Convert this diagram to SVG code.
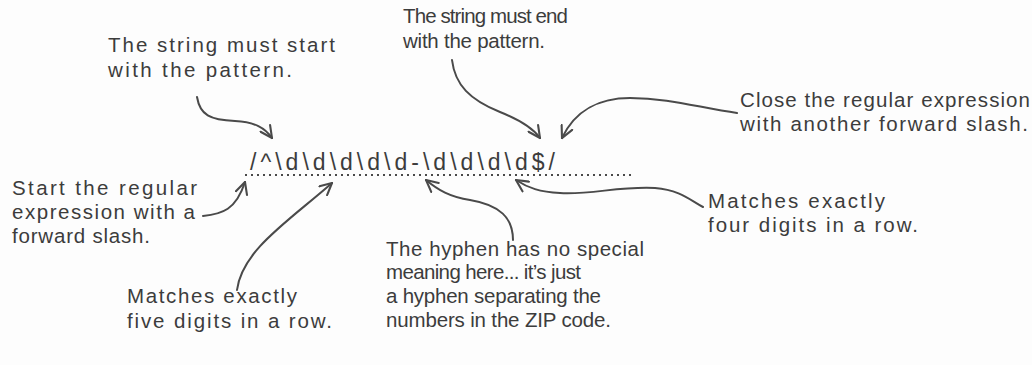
<svg xmlns="http://www.w3.org/2000/svg" width="1032" height="365" viewBox="0 0 1032 365">
<defs>
<style>
.t{font-family:"Liberation Sans","DejaVu Sans",sans-serif;font-size:20.5px;fill:#3c3c3c}
.rx{font-family:"Liberation Sans","DejaVu Sans",sans-serif;font-size:23px;fill:#3c3c3c}
.c{fill:none;stroke:#4a4a4a;stroke-width:2;stroke-linecap:round;marker-end:url(#ah)}
</style>
<marker id="ah" viewBox="0 0 12 12" refX="11" refY="6" markerWidth="14" markerHeight="14" markerUnits="userSpaceOnUse" orient="auto">
<path d="M1,1 L11,6 L1,11" fill="none" stroke="#4a4a4a" stroke-width="1.8" stroke-linecap="round"/>
</marker>
</defs>
<rect width="1032" height="365" fill="#fdfdfd"/>

<g id="regex">
<text class="rx" x="250" y="170" textLength="305">/^\d\d\d\d\d-\d\d\d\d$/</text>
<line x1="245" y1="175" x2="635" y2="175" stroke="#4a4a4a" stroke-width="2" stroke-dasharray="2 4"/>
</g>

<g id="note-start">
<text class="t" x="108" y="52" textLength="227">The string must start</text>
<text class="t" x="108" y="77" textLength="184">with the pattern.</text>
</g>
<g id="note-end">
<text class="t" x="403" y="23" textLength="165">The string must end</text>
<text class="t" x="403" y="48" textLength="142">with the pattern.</text>
</g>
<g id="note-close">
<text class="t" x="740" y="107" textLength="290">Close the regular expression</text>
<text class="t" x="740" y="131" textLength="288">with another forward slash.</text>
</g>
<g id="note-open">
<text class="t" x="12" y="195" textLength="185">Start the regular</text>
<text class="t" x="12" y="219" textLength="183">expression with a</text>
<text class="t" x="12" y="243" textLength="138">forward slash.</text>
</g>
<g id="note-four">
<text class="t" x="708" y="208" textLength="177">Matches exactly</text>
<text class="t" x="708" y="232" textLength="210">four digits in a row.</text>
</g>
<g id="note-hyphen">
<text class="t" x="386" y="256" textLength="258">The hyphen has no special</text>
<text class="t" x="386" y="279" textLength="195">meaning here... it’s just</text>
<text class="t" x="386" y="303" textLength="215">a hyphen separating the</text>
<text class="t" x="386" y="327" textLength="225">numbers in the ZIP code.</text>
</g>
<g id="note-five">
<text class="t" x="127" y="303" textLength="170">Matches exactly</text>
<text class="t" x="127" y="328" textLength="205">five digits in a row.</text>
</g>

<g id="connectors">
<path class="c" d="M197,97 C200,115 210,120 235,121 C255,122 265,128 272,138"/>
<path class="c" d="M452,60 C455,85 470,100 500,112 C520,120 533,128 540,138"/>
<path class="c" d="M737,113 C700,108 670,98 630,98 C600,98 575,110 562,138"/>
<path class="c" d="M203,216 C222,214 236,210 245,182"/>
<path class="c" d="M237,290 C242,250 290,220 332,183"/>
<path class="c" d="M513,240 C513,218 500,205 470,200 C450,197 438,190 426,180"/>
<path class="c" d="M703,207 C690,200 680,190 655,188 C620,186 590,195 560,193 C540,192 528,188 516,180"/>
</g>
</svg>
